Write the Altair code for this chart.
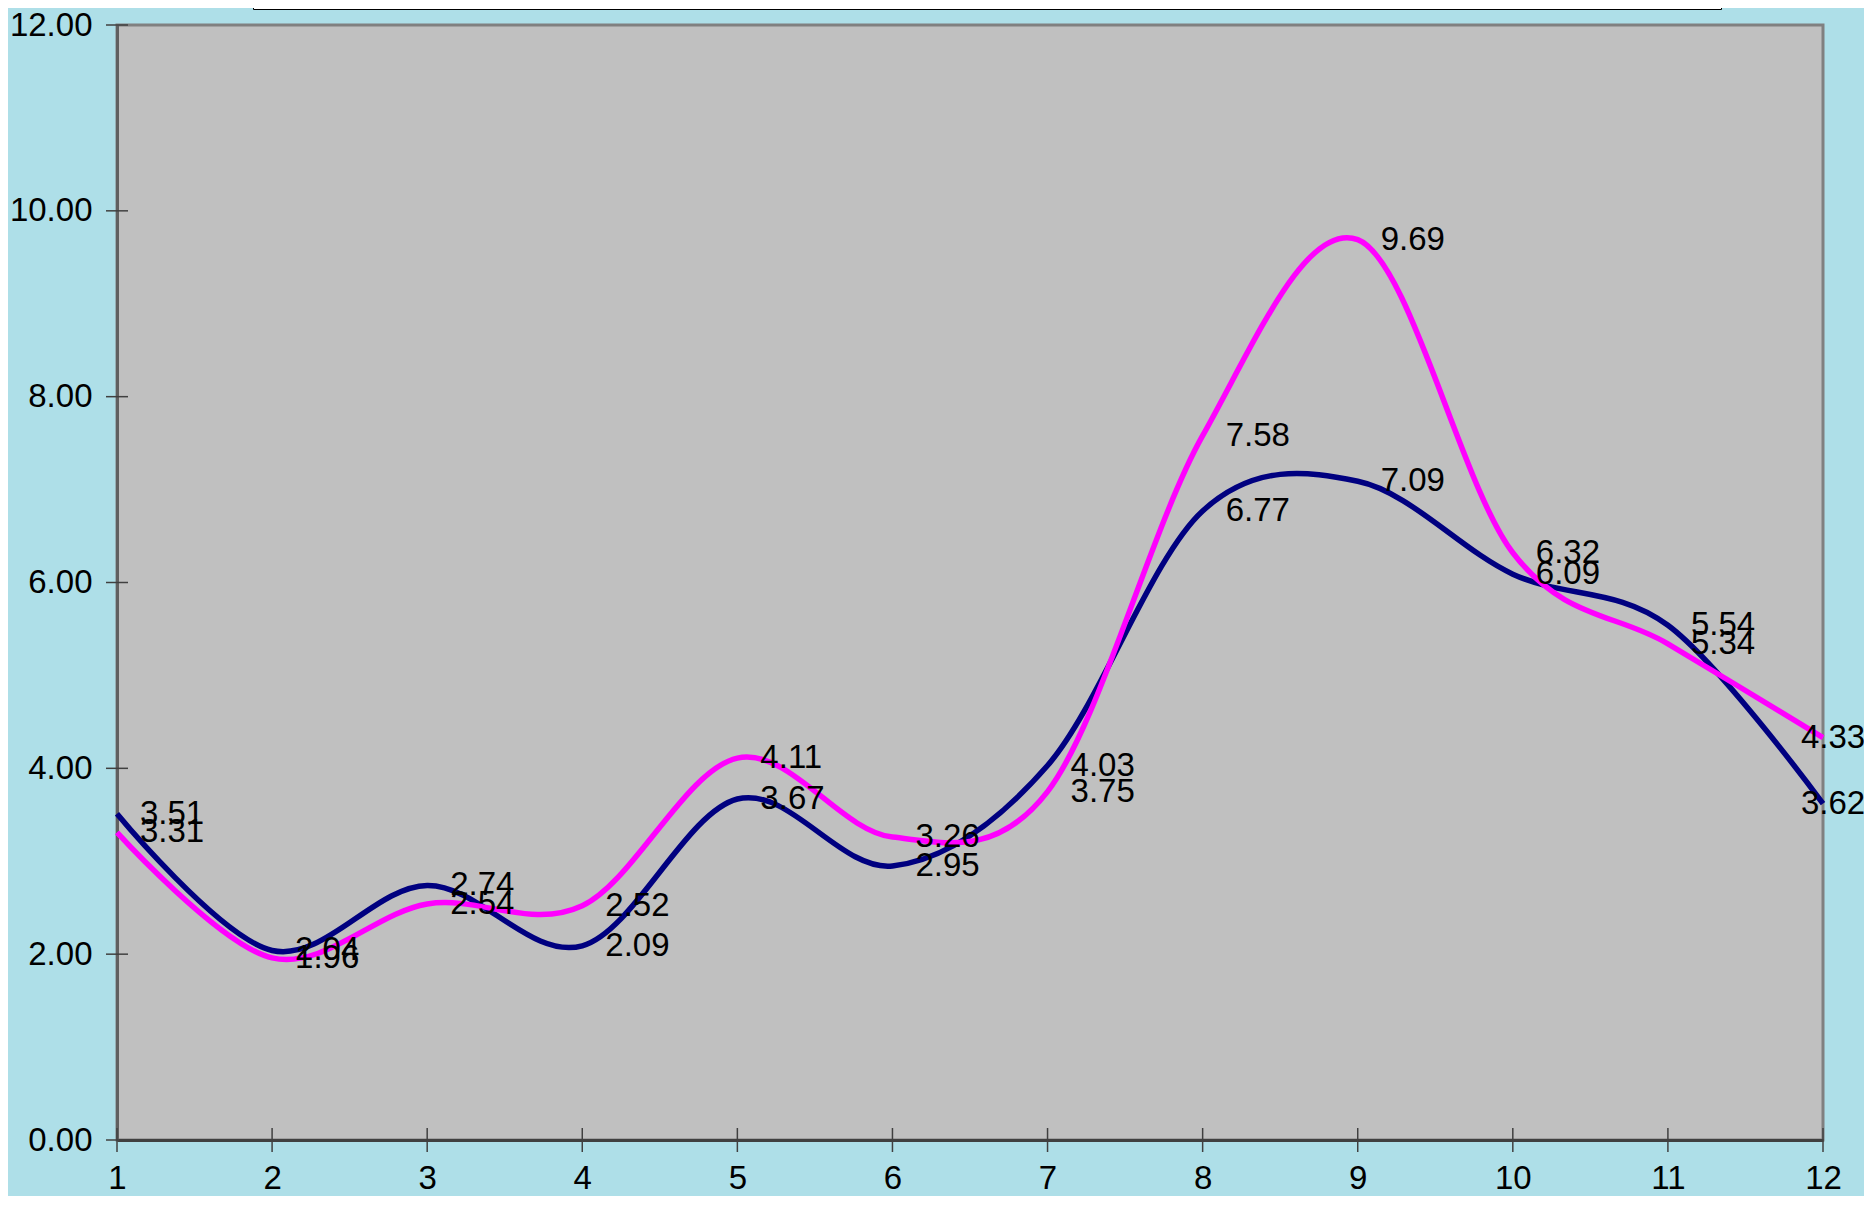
import altair as alt
import pandas as pd

# ---- data ----
x_points = [1, 2, 3, 4, 5, 6, 7, 8, 9, 10, 11, 12]
navy_values = [3.51, 2.04, 2.74, 2.09, 3.67, 2.95, 4.03, 6.77, 7.09, 6.09, 5.54, 3.62]
magenta_values = [3.31, 1.96, 2.54, 2.52, 4.11, 3.26, 3.75, 7.58, 9.69, 6.32, 5.34, 4.33]
series_names = ["Series1", "Series2"]
series_colors = ["#000080", "#FF00FF"]
y_tick_values = [0, 2, 4, 6, 8, 10, 12]
x_tick_values = x_points

df = pd.DataFrame({
    "x": x_points * 2,
    "value": navy_values + magenta_values,
    "series": [series_names[0]] * len(x_points) + [series_names[1]] * len(x_points),
})
ytick_df = pd.DataFrame({"t": y_tick_values})
xtick_df = pd.DataFrame({"t": x_tick_values})

W, H = 1706, 1115
FONT = "Liberation Sans"

xscale = alt.Scale(domain=[1, 12], nice=False, zero=False)
yscale = alt.Scale(domain=[0, 12], nice=False)

x_axis = alt.Axis(values=x_tick_values, format="d", ticks=False, grid=False,
                  labelPadding=22, labelFontSize=33, labelFont=FONT,
                  labelColor="black", domainColor="#404040", domainWidth=3,
                  labelFlush=False, labelOverlap=False)
y_axis = alt.Axis(values=y_tick_values, format=".2f", ticks=False, grid=False,
                  labelPadding=25, labelFontSize=33, labelFont=FONT,
                  labelColor="black", domainColor="#606060", domainWidth=3,
                  labelFlush=False, labelOverlap=False)


def X(field):
    return alt.X(field, scale=xscale, title=None, axis=x_axis)


def Y(field):
    return alt.Y(field, scale=yscale, title=None, axis=y_axis)


color_enc = alt.Color("series:N",
                      scale=alt.Scale(domain=series_names, range=series_colors),
                      legend=alt.Legend(orient="none", legendX=136, legendY=-63,
                                        direction="horizontal", title=None,
                                        fillColor="white", strokeColor="black",
                                        padding=8, labelFontSize=28, labelFont=FONT,
                                        symbolType="stroke", symbolStrokeWidth=4,
                                        symbolSize=900, columnPadding=1180))

base = alt.Chart(df)

lines = base.mark_line(interpolate="cardinal", strokeWidth=5.5).encode(
    x=X("x:Q"), y=Y("value:Q"), color=color_enc
)

labels_main = base.transform_filter(alt.datum.x < 12).mark_text(
    align="left", baseline="middle", dx=23, fontSize=33, font=FONT, color="black"
).encode(
    x=X("x:Q"), y=Y("value:Q"),
    text=alt.Text("value:Q", format=".2f"),
)

labels_last = base.transform_filter(alt.datum.x == 12).mark_text(
    align="left", baseline="middle", dx=-22, fontSize=33, font=FONT, color="black"
).encode(
    x=X("x:Q"), y=Y("value:Q"),
    text=alt.Text("value:Q", format=".2f"),
)

ytick_rules = alt.Chart(ytick_df).mark_rule(color="#404040", strokeWidth=1.5).encode(
    y=Y("t:Q"),
    x=alt.value(-11), x2=alt.value(11),
)
xtick_rules = alt.Chart(xtick_df).mark_rule(color="#404040", strokeWidth=1.5).encode(
    x=X("t:Q"),
    y=alt.value(H - 12), y2=alt.value(H + 12),
)

chart = alt.layer(lines, ytick_rules, xtick_rules, labels_main, labels_last).properties(
    width=W, height=H,
    autosize=alt.AutoSizeParams(type="none"),
    padding={"left": 109, "top": 17, "right": 41, "bottom": 56},
    background="#AEDFE8",
).configure_view(
    fill="#C0C0C0", stroke="#808080", strokeWidth=3
)

chart.save("out.html", embed_options={"renderer": "svg", "actions": False})
